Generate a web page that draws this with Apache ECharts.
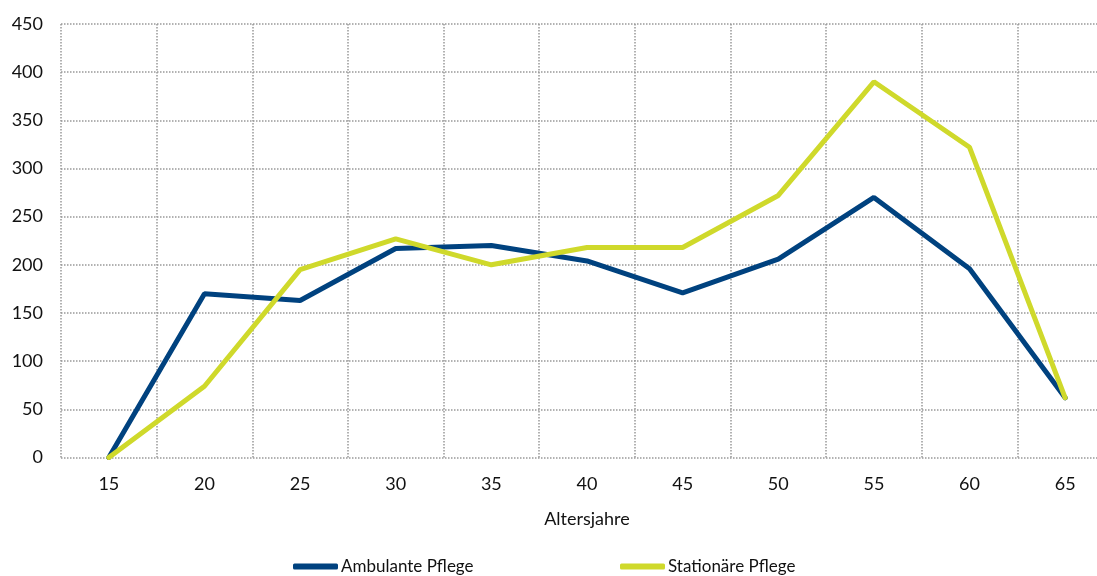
<!DOCTYPE html>
<html>
<head>
<meta charset="utf-8">
<script src="https://cdn.jsdelivr.net/npm/echarts@6/dist/echarts.min.js"></script>
<style>html,body{margin:0;padding:0;background:#fff}#c{width:1097px;height:576px}</style>
</head>
<body>
<div id="c"></div>
<script>
const categories = ['15','20','25','30','35','40','45','50','55','60','65'];
const ambulante = [0, 170, 163, 217, 220, 204, 171, 206, 270, 196, 62];
const stationaer = [0, 74, 195, 227, 200, 218, 218, 272, 390, 322, 62];
const seriesNames = ['Ambulante Pflege', 'Stationäre Pflege'];
const colors = ['#00427f', '#cfd92b'];

const font = 'Lato, "Open Sans", sans-serif';
const chart = echarts.init(document.getElementById('c'), null, {renderer: 'canvas'});
const grid = {type: 'dotted', color: '#999999', width: 1.5};
chart.setOption({
  animation: false,
  textStyle: {fontFamily: font},
  grid: {left: 61, top: 24, width: 1052, bottom: 118.5, containLabel: false, outerBoundsMode: 'none'},
  xAxis: {
    type: 'category',
    data: categories,
    boundaryGap: true,
    name: 'Altersjahre',
    nameLocation: 'middle',
    nameGap: 53,
    nameTextStyle: {fontSize: 18, color: '#111', fontFamily: font},
    axisLine: {show: false},
    axisTick: {show: false},
    axisLabel: {fontSize: 18, color: '#111', margin: 18, fontFamily: font},
    splitLine: {show: true, lineStyle: grid}
  },
  yAxis: {
    type: 'value',
    min: 0, max: 450, interval: 50,
    axisLine: {show: false},
    axisTick: {show: false},
    axisLabel: {fontSize: 18, color: '#111', margin: 18, fontFamily: font},
    splitLine: {show: true, lineStyle: grid}
  },
  legend: [
    {data: [seriesNames[0]], left: 288, top: 553, itemWidth: 45, itemHeight: 6, icon: 'roundRect',
     textStyle: {fontSize: 17, color: '#111', fontFamily: font, padding: [0,0,0,-2]}},
    {data: [seriesNames[1]], left: 615, top: 553, itemWidth: 45, itemHeight: 6, icon: 'roundRect',
     textStyle: {fontSize: 17, color: '#111', fontFamily: font, padding: [0,0,0,-2]}}
  ],
  series: [
    {name: seriesNames[0], type: 'line', data: ambulante, symbol: 'none', color: colors[0],
     lineStyle: {width: 5, color: colors[0], cap: 'round'}},
    {name: seriesNames[1], type: 'line', data: stationaer, symbol: 'none', color: colors[1],
     lineStyle: {width: 5, color: colors[1], cap: 'round'}}
  ]
});
</script>
</body>
</html>
